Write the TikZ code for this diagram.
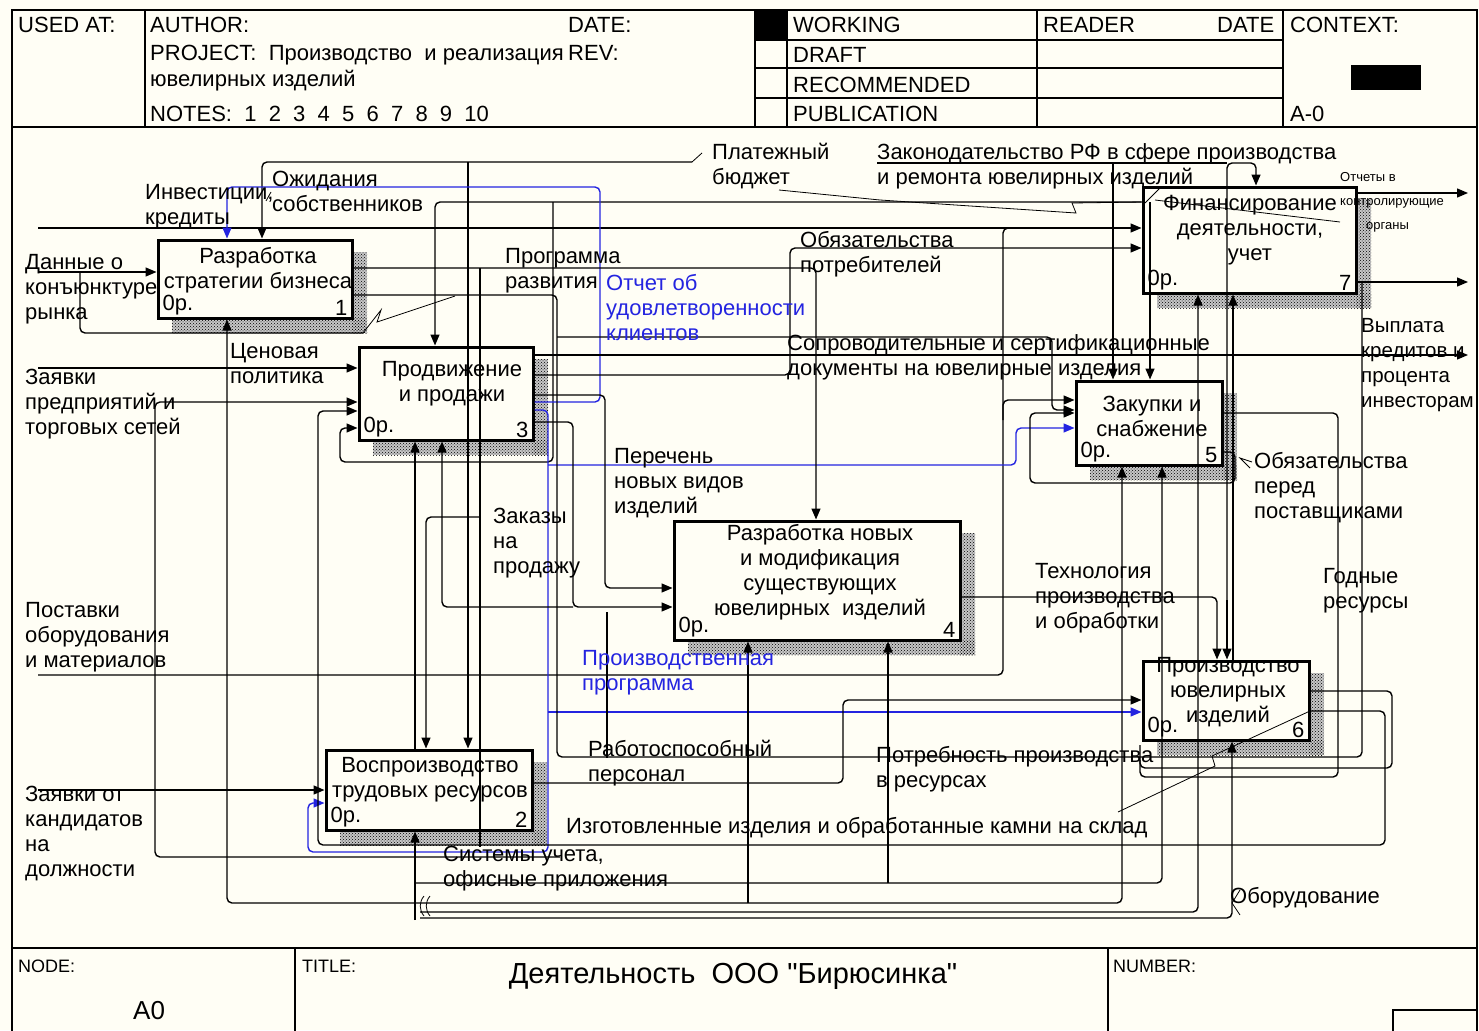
\documentclass[tikz,border=0pt]{standalone}
\usepackage{fontspec}
\setmainfont{Liberation Sans}
\newfontfamily\plainsans{Liberation Sans}
\usetikzlibrary{arrows.meta,patterns}
\definecolor{bgc}{HTML}{FFFEF5}
\definecolor{lblue}{HTML}{2424E0}
\newcommand{\lblfont}{\fontsize{22}{25}\selectfont}
\newcommand{\hdrfont}{\fontsize{22}{25}\selectfont}
\tikzset{
  ln/.style={line width=1.4pt, rounded corners=5pt},
  arr/.style={-{Triangle[length=11pt,width=9pt]}},
  lbl/.style={anchor=north west, inner sep=0pt, align=left, font=\lblfont},
  btxt/.style={inner sep=0pt, align=center, font=\lblfont},
  box/.style={draw, line width=3pt, fill=bgc, inner sep=0pt},
  shd/.style={pattern=crosshatch dots, pattern color=black},
  tk/.style={line width=0.8pt},
}
\begin{document}
\begin{tikzpicture}[x=1pt,y=-1pt]
\fill[bgc] (0,0) rectangle (1479,1030);
\useasboundingbox (0,0) rectangle (1479,1030);
% ---------- frame / header ----------
\draw[line width=1.5pt] (12,1032) -- (12,10) -- (1477,10) -- (1477,1032);
\draw[line width=1.5pt] (12,127) -- (1477,127);
\foreach \xx in {145,755,787,1037,1283} \draw[line width=1.3pt] (\xx,10) -- (\xx,127);
\foreach \yy in {40,68,98} \draw[line width=1.3pt] (755,\yy) -- (1283,\yy);
\fill (755,10) rectangle (787,40);
\fill (1351,65) rectangle (1421,90);
\node[lbl,font=\hdrfont] (hUsed) at (18,17) {USED AT:};
\node[lbl,font=\hdrfont] (hAuth) at (150,17) {AUTHOR:};
\node[lbl,font=\hdrfont] (hDate) at (568,17) {DATE:};
\node[lbl,font=\hdrfont] (hProj) at (150,45) {PROJECT:\ \ Производство\ \ и реализация};
\node[lbl,font=\hdrfont] (hRev) at (568,45) {REV:};
\node[lbl,font=\hdrfont] (hProj2) at (150,70) {ювелирных изделий};
\node[lbl,font=\hdrfont] (hNotes) at (150,106) {NOTES:\ \ 1\ \ 2\ \ 3\ \ 4\ \ 5\ \ 6\ \ 7\ \ 8\ \ 9\ \ 10};
\node[lbl,font=\hdrfont] (hWork) at (793,17) {WORKING};
\node[lbl,font=\hdrfont] (hDraft) at (793,47) {DRAFT};
\node[lbl,font=\hdrfont] (hRec) at (793,77) {RECOMMENDED};
\node[lbl,font=\hdrfont] (hPub) at (793,106) {PUBLICATION};
\node[lbl,font=\hdrfont] (hRead) at (1043,17) {READER};
\node[lbl,font=\hdrfont] (hDate2) at (1217,17) {DATE};
\node[lbl,font=\hdrfont] (hCtx) at (1290,17) {CONTEXT:};
\node[lbl,font=\hdrfont] (hA0) at (1290,106) {A-0};
% ---------- footer ----------
\draw[line width=1.5pt] (12,948) -- (1477,948);
\draw[line width=1.3pt] (295,948) -- (295,1032);
\draw[line width=1.3pt] (1108,948) -- (1108,1032);
\draw[line width=1.3pt] (1393,1032) -- (1393,1010) -- (1477,1010);
\node[lbl,font=\fontsize{18}{22}\selectfont] (fNode) at (18,960) {NODE:};
\node[lbl,font=\fontsize{26}{30}\selectfont] (fA0) at (133,1001) {A0};
\node[lbl,font=\fontsize{18}{22}\selectfont] (fTitle) at (302,960) {TITLE:};
\node[inner sep=0pt,font=\plainsans\fontsize{29}{32}\selectfont] (fT) at (733,976) {Деятельность\ \ ООО "Бирюсинка"};
\node[lbl,font=\fontsize{18}{22}\selectfont] (fNum) at (1113,960) {NUMBER:};
% ---------- shadows ----------
\foreach \xa/\ya/\xb/\yb in {158/240/352/318, 359/347/533/440, 326/750/532/830, 674/521/960/640, 1076/381/1222/465, 1143/661/1309/740, 1143/187/1356/293}{
  \fill[black!22] (\xb,\ya+12) rectangle (\xb+15,\yb+15);
  \fill[black!22] (\xa+14,\yb) rectangle (\xb+15,\yb+15);
  \fill[shd] (\xb,\ya+12) rectangle (\xb+15,\yb+15);
  \fill[shd] (\xa+14,\yb) rectangle (\xb+15,\yb+15);
}
% ---------- boxes ----------
\node[box, minimum width=194pt, minimum height=78pt] (B1) at (255,279) {};
\node[box, minimum width=174pt, minimum height=93pt] (B3) at (446,393.5) {};
\node[box, minimum width=206pt, minimum height=80pt] (B2) at (429,790) {};
\node[box, minimum width=286pt, minimum height=119pt] (B4) at (817,580.5) {};
\node[box, minimum width=146pt, minimum height=84pt] (B5) at (1149,423) {};
\node[box, minimum width=166pt, minimum height=79pt] (B6) at (1226,700.5) {};
\node[box, minimum width=213pt, minimum height=106pt] (B7) at (1249.5,240) {};
% box texts
\node[btxt] (B1t) at (258,270) {Разработка\\стратегии бизнеса};
\node[btxt] (B3t) at (452,384) {Продвижение\\и продажи};
\node[btxt] (B2t) at (430,780) {Воспроизводство\\трудовых ресурсов};
\node[btxt] (B4t) at (820,572) {Разработка новых\\и модификация\\существующих\\ювелирных\ \ изделий};
\node[btxt] (B5t) at (1152,416) {Закупки и\\снабжение};
\node[btxt] (B6t) at (1228,692) {Производство\\ювелирных\\изделий};
\node[btxt] (B7t) at (1250,230) {Финансирование\\деятельности,\\учет};
\foreach \b/\n in {B1/1,B2/2,B3/3,B4/4,B5/5,B6/6,B7/7}{
  \node[inner sep=0pt,font=\lblfont,anchor=south west] (\b o) at ([shift={(6pt,4pt)}]\b.south west) {0р.};
  \node[inner sep=0pt,font=\lblfont,anchor=south east] (\b n) at ([shift={(-6pt,4pt)}]\b.south east) {\n};
}
% ---------- connectors ----------
% left inputs
\draw[ln,arr] (38,272) -- (B1.west |- 0,272);
\draw[ln] (80,272) |- (363,333);
\draw[tk] (363,333) -- (381,310) -- (377,322) -- (455,296);
\draw[ln,arr] (38,228) -- (B7.west |- 0,228);
\draw[ln,arr] (38,368) -- (B3.west |- 0,368);
\draw[ln,arr] (38,790) -- (B2.west |- 0,790);
\draw[ln,arr] (38,675) -- (1003,675) -- (1003,400) -- (B5.west |- 0,400);
\draw[ln] (1003,420) |- (1050,228);
% top controls
\draw[ln,arr] (692,162) -| (B1.north -| 262,0);
\draw[tk] (692,162) -- (702,153);
\draw[tk] (266,201) -- (271,192);
\draw[ln,arr] (468,162) -- (B2.north -| 468,0);
\draw[ln] (877,163) -- (1227,163);
\draw[ln,arr] (1227,610) -- (1227,163) -- (1256,163) -- (B7.north -| 1256,0);
\draw[ln,arr] (1227,600) -- (B6.north -| 1227,0);
\draw[ln,arr] (1113,163) -- (B5.north -| 1113,0);
\draw[ln,arr] (B7.west |- 0,202) -- (435,202) -- (B3.north -| 435,0);
\draw[ln,arr] (1150,202) -- (B5.north -| 1150,0);
\draw[tk] (1145,203) -- (1160,188);
\draw[tk] (779,190) -- (880,200) -- (1076,213) -- (1072,203) -- (1143,202);
\draw[tk] (1155,200) -- (1340,222);
\draw[ln,arr] (553,202) -- (553,462) -- (340,462) -- (340,428) -- (B3.west |- 0,428);
% blue
\draw[ln,draw=lblue,arr] (B3.east |- 0,402) -- (600,402) -- (600,187) -- (227,187) -- (B1.north -| 227,0);
\draw[ln,draw=lblue,arr] (B3.east |- 0,410) -- (548,410) -- (548,852) -- (308,852) -- (308,803) -- (B2.west |- 0,803);
\draw[ln,draw=lblue,arr] (548,465) -- (1016,465) -- (1016,428) -- (B5.west |- 0,428);
\draw[ln,draw=lblue,arr] (548,712) -- (B6.west |- 0,712);
% box 1 outputs
\draw[ln,arr] (B1.east |- 0,268) -| (B4.north -| 816,0);
\draw[ln] (480,268) -- (480,847);
\draw[ln,arr] (480,517) -| (B2.north -| 426,0);
\draw[ln] (B1.east |- 0,295) -- (557,295) -- (557,757) -- (1362,757) -- (1362,282);
\draw[ln,arr] (557,337) -- (1052,337) -- (1052,410) -- (B5.west |- 0,410);
% box 3 outputs
\draw[ln,arr] (B3.east |- 0,355) -- (1468,355);
\draw[ln,arr] (B3.east |- 0,375) -- (790,375) -- (790,248) -- (B7.west |- 0,248);
\draw[ln,arr] (B3.east |- 0,395) -- (605,395) -- (605,588) -- (B4.west |- 0,588);
\draw[ln,arr] (B3.east |- 0,422) -- (573,422) -- (573,607) -- (B4.west |- 0,607);
\draw[ln,arr] (573,607) -- (442,607) -- (B3.south -| 442,0);
\draw[ln,arr] (415,750) -- (B3.south -| 415,0);
\draw[ln,arr] (560,857) -- (155,857) -- (155,402) -- (B3.west |- 0,402);
\draw[ln] (607,612) -- (607,758);
% box 6 / 5 / 7
\draw[ln,arr] (B6.east |- 0,711) -- (1385,711) -- (1385,845) -- (318,845) -- (318,411) -- (B3.west |- 0,411);
\draw[tk] (1118,812) -- (1215,766) -- (1212,756) -- (1247,740) -- (1310,711);
\draw[ln,arr] (B2.east |- 0,783) -- (843,783) -- (843,700) -- (B6.west |- 0,700);
\draw[ln] (B6.east |- 0,691) -- (1392,691) -- (1392,768) -- (1140,768) -- (1140,745);
\draw[ln] (B5.east |- 0,413) -- (1338,413) -- (1338,777) -- (1140,777) -- (1140,760);
\draw[ln,arr] (B5.east |- 0,452) -- (1235,452) -- (1235,483) -- (1030,483) -- (1030,413) -- (B5.west |- 0,413);
\draw[tk] (1252,462) -- (1240,458) -- (1250,468);
\draw[ln,arr] (B4.east |- 0,597) -- (1217,597) -- (B6.north -| 1217,0);
\draw[ln,arr] (1233,661) -- (B7.south -| 1233,0);
\draw[ln,arr] (B7.east |- 0,193) -- (1468,193);
\draw[ln,arr] (B7.east |- 0,282) -- (1468,282);
% bottom bus
\draw[ln,arr] (420,903) -- (227,903) -- (B1.south -| 227,0);
\draw[ln,arr] (420,903) -- (1122,903) -- (B5.south -| 1122,0);
\draw[ln,arr] (748,903) -- (B4.south -| 748,0);
\draw[ln,arr] (415,883) -- (1162,883) -- (B5.south -| 1162,0);
\draw[ln,arr] (888,883) -- (B4.south -| 888,0);
\draw[ln,arr] (415,920) -- (B2.south -| 415,0);
\draw[ln,arr] (420,912) -- (1198,912) -- (B7.south -| 1198,0);
\draw[ln,arr] (420,918) -- (1232,918) -- (B6.south -| 1232,0);
\draw[tk] (424,896) to[bend right=40] (424,916);
\draw[tk] (430,896) to[bend right=40] (430,916);
\draw[tk] (1240,890) -- (1232,903) -- (1240,915);
% ---------- labels ----------
\node[lbl] (lInv) at (145,184) {Инвестиции,\\кредиты};
\node[lbl] (lOzh) at (272,171) {Ожидания\\собственников};
\node[lbl] (lDan) at (25,254) {Данные о\\конъюнктуре\\рынка};
\node[lbl] (lProg) at (505,248) {Программа\\развития};
\node[lbl,text=lblue] (lOtch) at (606,274) {Отчет об\\удовлетворенности\\клиентов};
\node[lbl] (lPlat) at (712,143) {Платежный\\бюджет};
\node[lbl] (lZak) at (877,143) {Законодательство РФ в сфере производства\\и ремонта ювелирных изделий};
\node[lbl,font=\fontsize{13}{24}\selectfont] (lRep) at (1340,172) {Отчеты в\\контролирующие\\\hspace*{26pt}органы};
\node[lbl] (lObp) at (800,231) {Обязательства\\потребителей};
\node[lbl] (lSop) at (787,334) {Сопроводительные и сертификационные\\документы на ювелирные изделия};
\node[lbl,font=\fontsize{20.5}{25}\selectfont] (lVyp) at (1361,318) {Выплата\\кредитов и\\процента\\инвесторам};
\node[lbl] (lCen) at (230,343) {Ценовая\\политика};
\node[lbl] (lZay) at (25,369) {Заявки\\предприятий и\\торговых сетей};
\node[lbl] (lPer) at (614,448) {Перечень\\новых видов\\изделий};
\node[lbl] (lObs) at (1254,452) {Обязательства\\перед\\поставщиками};
\node[lbl] (lZkz) at (493,508) {Заказы\\на\\продажу};
\node[lbl] (lTeh) at (1035,563) {Технология\\производства\\и обработки};
\node[lbl] (lGod) at (1323,568) {Годные\\ресурсы};
\node[lbl] (lPos) at (25,602) {Поставки\\оборудования\\и материалов};
\node[lbl,text=lblue] (lPrp) at (582,650) {Производственная\\программа};
\node[lbl] (lRab) at (588,740) {Работоспособный\\персонал};
\node[lbl] (lPot) at (876,746) {Потребность производства\\в ресурсах};
\node[lbl] (lZk2) at (25,786) {Заявки от\\кандидатов\\на\\должности};
\node[lbl] (lIzg) at (566,817) {Изготовленные изделия и обработанные камни на склад};
\node[lbl] (lSys) at (443,846) {Системы учета,\\офисные приложения};
\node[lbl] (lObo) at (1230,887) {Оборудование};
\end{tikzpicture}
\end{document}
